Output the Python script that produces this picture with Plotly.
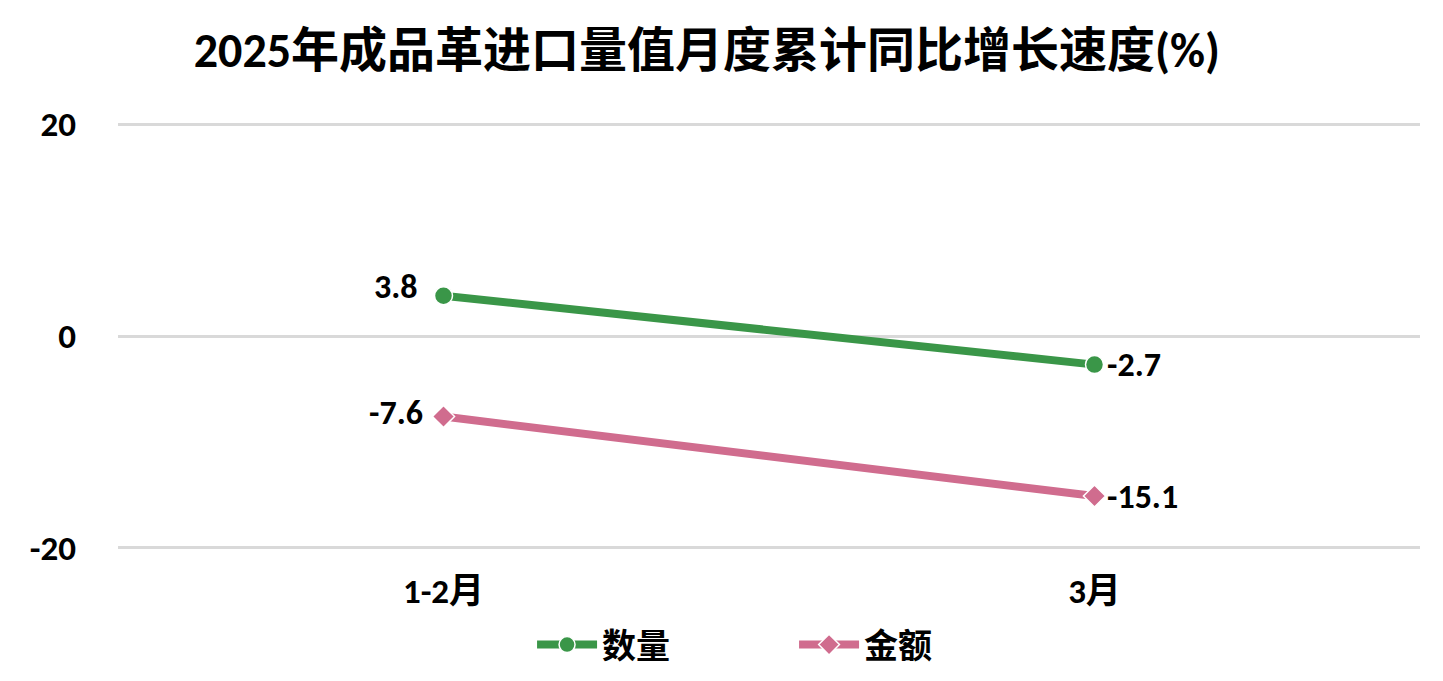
import plotly.graph_objects as go

categories = ["1-2月", "3月"]
quantity = [3.8, -2.7]
amount = [-7.6, -15.1]
series_names = ["数量", "金额"]
y_ticks = [-20, 0, 20]
y_tick_text = ["-20", "0", "20"]

FONT = "Calibri, Carlito, 'Noto Sans CJK SC', sans-serif"
GREEN = "#3A9648"
PINK = "#D06C8E"

fig = go.Figure()
fig.add_trace(go.Scatter(
    x=categories, y=quantity, name=series_names[0], mode="lines+markers",
    line=dict(color=GREEN, width=8),
    marker=dict(symbol="circle", size=18, color=GREEN, line=dict(color="white", width=1.5)),
))
fig.add_trace(go.Scatter(
    x=categories, y=amount, name=series_names[1], mode="lines+markers",
    line=dict(color=PINK, width=8),
    marker=dict(symbol="diamond", size=17, color=PINK, line=dict(color="white", width=1.5)),
))

label_font = dict(family=FONT, size=34, color="black", weight="bold")
# data labels: first point to the left (slightly above), second point to the right
shifts = {
    0: [(-24, 9), (10, 0)],
    1: [(-19, 4), (10, 0)],
}
for si, vals in enumerate([quantity, amount]):
    for pi, v in enumerate(vals):
        dx, dy = shifts[si][pi]
        fig.add_annotation(
            x=categories[pi], y=v, text=f"{v:.1f}", showarrow=False,
            xanchor="right" if dx < 0 else "left", yanchor="middle",
            xshift=dx, yshift=dy, font=label_font,
        )

fig.update_layout(
    width=1435, height=673,
    paper_bgcolor="white", plot_bgcolor="white",
    margin=dict(l=110, r=23, t=115, b=132),
    title=dict(text="2025年成品革进口量值月度累计同比增长速度(%)", x=0.487, xanchor="center",
               xref="container", yref="container",
               y=0.938, yanchor="middle",
               font=dict(family=FONT, size=48, color="black", weight="bold")),
    showlegend=True,
    legend=dict(orientation="h", x=0.3652, xanchor="left", xref="container",
                y=0.0535, yanchor="middle", yref="container", bgcolor="rgba(0,0,0,0)",
                font=dict(family=FONT, size=34, color="black", weight="bold"),
                itemwidth=60, entrywidth=187, entrywidthmode="pixels"),
    xaxis=dict(type="category", range=[-0.5, 1.5], showgrid=False, zeroline=False,
               showline=False, ticks="", ticklabelstandoff=18, automargin=False,
               tickfont=dict(family=FONT, size=35, color="black", weight="bold")),
    yaxis=dict(range=[-20.1, 20.1], tickvals=y_ticks, ticktext=y_tick_text,
               showgrid=True, gridcolor="#D9D9D9",
               gridwidth=2.5, zeroline=False, showline=False, ticks="", ticklabelstandoff=41,
               automargin=False,
               tickfont=dict(family=FONT, size=35, color="black", weight="bold")),
)

fig.write_html("out.html")
